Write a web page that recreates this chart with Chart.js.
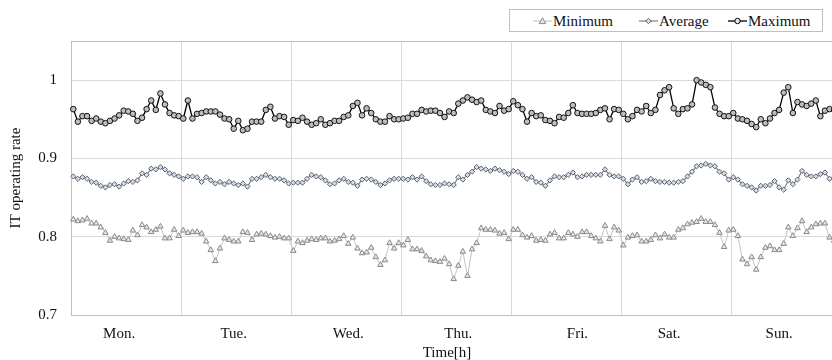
<!DOCTYPE html>
<html>
<head>
<meta charset="utf-8">
<script src="https://cdn.jsdelivr.net/npm/chart.js@4.4.1/dist/chart.umd.min.js"></script>
<style>
	html, body { margin: 0; padding: 0; background: #fff; overflow: hidden; }
	#wrap { position: relative; width: 832px; height: 360px; overflow: hidden; color: #111; }
	#chart { position: absolute; left: 0; top: 0; width: 860px; height: 360px; }
	#legend, #xtitle { font-family: 'Liberation Serif', 'Times New Roman', serif; font-size: 15px; }
	#legend { position: absolute; left: 509px; top: 9px; width: 312px; height: 21px; border: 1px solid #bfbfbf; background: #fff; }
	#legend .item { position: absolute; top: 2px; height: 18px; display: flex; align-items: center; white-space: nowrap; }
	#legend svg { margin-right: 1px; }
	#xtitle { position: absolute; left: 347px; width: 200px; top: 343px; line-height: 18px; text-align: center; }
</style>
</head>
<body>
<div id="wrap">
	<canvas id="chart" width="860" height="360"></canvas>
	<div id="legend">
		<span class="item" style="left:23px">
			<svg width="19" height="10"><line x1="0" y1="5" x2="19" y2="5" stroke="#bfbfbf" stroke-width="1"/><polygon points="9.5,1.8 12.8,7.6 6.2,7.6" fill="#e2ebd9" stroke="#8a8a8a" stroke-width="1"/></svg>Minimum
		</span>
		<span class="item" style="left:129px">
			<svg width="19" height="10"><line x1="0" y1="5" x2="19" y2="5" stroke="#7f7f7f" stroke-width="1.2"/><polygon points="9.5,2.3 12.2,5 9.5,7.7 6.8,5" fill="#d6dce5" stroke="#5b6270" stroke-width="1"/></svg>Average
		</span>
		<span class="item" style="left:218px">
			<svg width="19" height="10"><line x1="0" y1="5" x2="19" y2="5" stroke="#000" stroke-width="1.3"/><circle cx="9.5" cy="5" r="2.7" fill="#e6e6e6" stroke="#000" stroke-width="1"/></svg>Maximum
		</span>
	</div>
	<div id="xtitle">Time[h]</div>
</div>
<script>
	var dayLabels = ['Mon.', 'Tue.', 'Wed.', 'Thu.', 'Fri.', 'Sat.', 'Sun.'];
	var dayLabelHours = [10, 35, 60, 84, 110, 130, 154];
	var hoursPerDay = 24;
	var yTicks = [0.7, 0.8, 0.9, 1];
	var yMax = 1.05;

	// hourly values, Mon 0h .. Sun 23h
	var minimum = [
		0.822, 0.820, 0.821, 0.823, 0.817, 0.817, 0.812, 0.805, 0.795, 0.800,
		0.798, 0.797, 0.796, 0.808, 0.802, 0.815, 0.812, 0.806, 0.809, 0.813,
		0.798, 0.798, 0.809, 0.801, 0.808, 0.805, 0.806, 0.806, 0.804, 0.794,
		0.783, 0.769, 0.785, 0.798, 0.796, 0.794, 0.794, 0.806, 0.805, 0.796,
		0.803, 0.804, 0.803, 0.801, 0.799, 0.800, 0.798, 0.798, 0.782, 0.794,
		0.792, 0.795, 0.797, 0.796, 0.798, 0.798, 0.794, 0.795, 0.797, 0.801,
		0.791, 0.799, 0.785, 0.779, 0.780, 0.786, 0.774, 0.764, 0.770, 0.792,
		0.785, 0.792, 0.789, 0.796, 0.784, 0.784, 0.782, 0.775, 0.770, 0.769,
		0.768, 0.772, 0.765, 0.746, 0.763, 0.781, 0.750, 0.784, 0.792, 0.811,
		0.809, 0.809, 0.808, 0.804, 0.805, 0.797, 0.809, 0.809, 0.802, 0.799,
		0.801, 0.795, 0.796, 0.795, 0.803, 0.805, 0.798, 0.798, 0.805, 0.803,
		0.800, 0.806, 0.806, 0.801, 0.798, 0.794, 0.814, 0.797, 0.812, 0.808,
		0.789, 0.799, 0.801, 0.802, 0.794, 0.794, 0.796, 0.802, 0.798, 0.803,
		0.799, 0.799, 0.809, 0.811, 0.816, 0.818, 0.819, 0.823, 0.819, 0.819,
		0.815, 0.805, 0.787, 0.808, 0.809, 0.801, 0.771, 0.765, 0.774, 0.758,
		0.774, 0.786, 0.788, 0.783, 0.783, 0.791, 0.812, 0.801, 0.811, 0.820,
		0.806, 0.812, 0.816, 0.817, 0.817, 0.799, 0.795, 0.800
	];
	var average = [
		0.877, 0.874, 0.876, 0.874, 0.870, 0.869, 0.865, 0.863, 0.866, 0.867,
		0.864, 0.868, 0.871, 0.870, 0.872, 0.881, 0.879, 0.887, 0.886, 0.889,
		0.886, 0.881, 0.879, 0.877, 0.874, 0.877, 0.877, 0.876, 0.870, 0.876,
		0.872, 0.868, 0.870, 0.867, 0.870, 0.868, 0.866, 0.868, 0.864, 0.874,
		0.874, 0.876, 0.879, 0.876, 0.874, 0.874, 0.872, 0.868, 0.869, 0.869,
		0.869, 0.874, 0.879, 0.877, 0.876, 0.872, 0.867, 0.868, 0.872, 0.874,
		0.870, 0.869, 0.865, 0.873, 0.874, 0.873, 0.870, 0.866, 0.868, 0.872,
		0.874, 0.874, 0.874, 0.873, 0.876, 0.873, 0.877, 0.871, 0.867, 0.866,
		0.866, 0.868, 0.867, 0.866, 0.876, 0.873, 0.879, 0.883, 0.889, 0.887,
		0.886, 0.884, 0.887, 0.885, 0.883, 0.880, 0.884, 0.883, 0.879, 0.874,
		0.876, 0.870, 0.869, 0.865, 0.872, 0.877, 0.876, 0.876, 0.879, 0.882,
		0.876, 0.877, 0.879, 0.879, 0.879, 0.879, 0.886, 0.879, 0.877, 0.877,
		0.874, 0.867, 0.873, 0.876, 0.870, 0.871, 0.874, 0.871, 0.870, 0.870,
		0.869, 0.869, 0.870, 0.871, 0.877, 0.883, 0.890, 0.891, 0.893, 0.891,
		0.890, 0.883, 0.881, 0.873, 0.876, 0.873, 0.867, 0.865, 0.863, 0.859,
		0.865, 0.865, 0.866, 0.871, 0.863, 0.860, 0.872, 0.867, 0.873, 0.884,
		0.879, 0.877, 0.877, 0.880, 0.882, 0.874, 0.876, 0.877
	];
	var maximum = [
		0.963, 0.947, 0.954, 0.954, 0.948, 0.951, 0.947, 0.945, 0.948, 0.951,
		0.955, 0.961, 0.960, 0.957, 0.948, 0.952, 0.963, 0.974, 0.962, 0.983,
		0.969, 0.958, 0.955, 0.954, 0.951, 0.974, 0.951, 0.957, 0.958, 0.960,
		0.960, 0.960, 0.956, 0.951, 0.950, 0.938, 0.948, 0.936, 0.938, 0.947,
		0.947, 0.947, 0.962, 0.966, 0.951, 0.954, 0.953, 0.943, 0.949, 0.948,
		0.952, 0.947, 0.943, 0.945, 0.950, 0.943, 0.945, 0.948, 0.948, 0.953,
		0.955, 0.967, 0.971, 0.955, 0.964, 0.958, 0.950, 0.947, 0.947, 0.954,
		0.950, 0.950, 0.951, 0.952, 0.957, 0.957, 0.962, 0.960, 0.961, 0.961,
		0.958, 0.953, 0.960, 0.958, 0.970, 0.974, 0.978, 0.975, 0.972, 0.974,
		0.962, 0.960, 0.958, 0.967, 0.961, 0.963, 0.973, 0.968, 0.963, 0.947,
		0.958, 0.954, 0.955, 0.949, 0.948, 0.945, 0.953, 0.952, 0.958, 0.968,
		0.958, 0.957, 0.957, 0.957, 0.958, 0.962, 0.964, 0.950, 0.963, 0.962,
		0.957, 0.950, 0.954, 0.962, 0.960, 0.967, 0.958, 0.962, 0.981, 0.987,
		0.991, 0.964, 0.957, 0.963, 0.964, 0.969, 1.000, 0.997, 0.994, 0.991,
		0.965, 0.957, 0.954, 0.954, 0.958, 0.951, 0.950, 0.948, 0.944, 0.940,
		0.950, 0.945, 0.951, 0.958, 0.962, 0.984, 0.991, 0.958, 0.972, 0.969,
		0.967, 0.970, 0.974, 0.954, 0.961, 0.963, 0.962, 0.960
	];

	var hourLabels = maximum.map(function (v, i) {
		var k = dayLabelHours.indexOf(i);
		return k >= 0 ? dayLabels[k] : '';
	});

	Chart.defaults.font.family = "'Liberation Serif', 'Times New Roman', serif";
	Chart.defaults.font.size = 15;
	Chart.defaults.color = '#111';

	new Chart(document.getElementById('chart'), {
		type: 'line',
		data: {
			labels: hourLabels,
			datasets: [{
				label: 'Maximum',
				data: maximum,
				borderColor: '#000',
				borderWidth: 1.3,
				pointStyle: 'circle',
				pointRadius: 2.8,
				pointBorderWidth: 1,
				pointBackgroundColor: '#bdbdbd',
				pointBorderColor: '#111'
			}, {
				label: 'Average',
				data: average,
				borderColor: '#7f7f7f',
				borderWidth: 1.2,
				pointStyle: 'rectRot',
				pointRadius: 2.6,
				pointBorderWidth: 1,
				pointBackgroundColor: '#d6dce5',
				pointBorderColor: '#5b6270'
			}, {
				label: 'Minimum',
				data: minimum,
				borderColor: '#c4c4c4',
				borderWidth: 1,
				pointStyle: 'triangle',
				pointRadius: 3.2,
				pointBorderWidth: 1,
				pointBackgroundColor: '#e2ebd9',
				pointBorderColor: '#8a8a8a'
			}]
		},
		options: {
			responsive: false,
			animation: false,
			devicePixelRatio: 1,
			layout: { padding: { top: 41, right: 19, bottom: 0, left: 0 } },
			elements: { line: { tension: 0 } },
			plugins: { legend: { display: false }, tooltip: { enabled: false } },
			scales: {
				x: {
					type: 'category',
					offset: true,
					grid: {
						offset: true,
						drawTicks: false,
						color: function (ctx) {
							return ctx.index % hoursPerDay === 0 ? '#d9d9d9' : 'rgba(0,0,0,0)';
						}
					},
					border: { color: '#bfbfbf', width: 1 },
					ticks: { autoSkip: false, maxRotation: 0, minRotation: 0, padding: 10 },
					afterFit: function (scale) { scale.height = 45; }
				},
				y: {
					min: yTicks[0],
					max: yMax,
					afterBuildTicks: function (scale) {
						scale.ticks = yTicks.concat([yMax]).map(function (v) { return { value: v }; });
					},
					grid: {
						drawTicks: false,
						color: function (ctx) {
							return ctx.tick && ctx.tick.value > 1.01 ? '#bfbfbf' : '#d9d9d9';
						}
					},
					border: { color: '#bfbfbf', width: 1 },
					ticks: {
						padding: 14,
						callback: function (value) {
							return value > 1.01 ? '' : String(+value.toFixed(2));
						}
					},
					title: { display: true, text: 'IT operating rate', padding: 7 },
					afterFit: function (scale) { scale.width = 71; }
				}
			}
		}
	});
</script>
</body>
</html>
